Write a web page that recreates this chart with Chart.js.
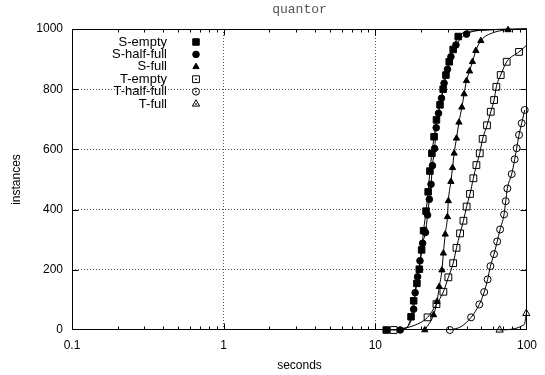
<!DOCTYPE html>
<html>
<head>
<meta charset="utf-8">
<title>quantor</title>
<script src="https://cdn.jsdelivr.net/npm/chart.js@4.4.1/dist/chart.umd.min.js"></script>
<style>
  html, body { margin: 0; padding: 0; background: #fff; }
  #chart { display: block; }
</style>
</head>
<body>
<canvas id="chart" width="545" height="375"></canvas>
<script>
// solve time (seconds) vs number of solved instances
const xTicks = [0.1, 1, 10, 100];
const yTicks = [0, 200, 400, 600, 800, 1000];

const sEmptyT = [11.8, 17.2, 17.9, 18.8, 19.5, 20.2, 20.8, 21.6, 22.3, 22.9, 23.6, 24.4, 25.3, 26.7, 28.0, 29.2, 30.7, 32.6, 35.2];
const sEmptyN = [0, 44, 97, 155, 202, 266, 330, 395, 459, 528, 587, 642, 698, 748, 800, 847, 891, 932, 975];
const sHalfT = [14.6, 17.9, 18.3, 19.0, 19.7, 20.5, 21.4, 22.1, 22.7, 23.3, 23.8, 24.6, 25.2, 26.1, 27.3, 28.4, 29.9, 31.5, 34.0, 39.9];
const sHalfN = [0, 69, 124, 177, 230, 288, 324, 382, 434, 484, 546, 603, 672, 720, 770, 820, 866, 908, 947, 983];
const sFullT = [21.2, 24.2, 25.5, 26.4, 27.5, 28.1, 28.9, 29.9, 30.3, 31.5, 32.3, 33.1, 34.3, 35.6, 37.2, 38.5, 39.9, 41.8, 43.7, 46.0, 49.6, 75];
const sFullN = [0, 50, 94, 144, 199, 255, 318, 376, 429, 493, 539, 587, 637, 690, 740, 784, 828, 860, 891, 928, 961, 997];
const tEmptyT = [13.2, 22.1, 25.3, 28.1, 30.3, 32.6, 34.3, 36.2, 38.1, 40.0, 42.1, 44.3, 46.4, 48.8, 51.0, 54.5, 57.7, 60.7, 62.8, 67.1, 73.5, 88.6];
const tEmptyN = [0, 42, 86, 127, 175, 222, 273, 321, 363, 410, 452, 504, 548, 587, 635, 680, 725, 764, 808, 847, 891, 924];
const tHalfT = [31.0, 42.8, 48.5, 52.2, 55.0, 57.4, 60.6, 63.6, 66.5, 70.6, 72.4, 74.2, 79.3, 83.0, 85.5, 88.6, 92.3, 96.6];
const tHalfN = [0, 42, 85, 126, 168, 212, 252, 294, 334, 384, 428, 470, 518, 567, 604, 648, 687, 731];
const tFullT = [66, 99];
const tFullN = [0, 55];

// points the curves pass through where no marker is drawn
const sEmptyLineT = [15.8, 45, 100];
const sEmptyLineN = [4, 994, 1000];
const sHalfLineT = [16.8, 55, 100];
const sHalfLineN = [20, 997, 1000];
const sFullLineT = [60, 100];
const sFullLineN = [988, 1000];
const tEmptyLineT = [18, 100];
const tEmptyLineN = [15, 947];
const tHalfLineT = [37];
const tHalfLineN = [12];
const tFullLineT = [96];
const tFullLineN = [18];

function series(t, n, lt, ln) {
  const pts = t.map((v, i) => ({ x: v, y: n[i], mark: true }))
    .concat(lt.map((v, i) => ({ x: v, y: ln[i], mark: false })));
  pts.sort((a, b) => a.x - b.x);
  return pts;
}

function ds(label, data, style, r, filled) {
  return {
    label: label,
    data: data,
    borderColor: '#000',
    borderWidth: 1,
    pointStyle: style,
    markRadius: r,
    filled: filled,
    pointRadius: ctx => (ctx.raw && ctx.raw.mark ? r : 0),
    pointHoverRadius: 0,
    pointBorderColor: '#000',
    pointBorderWidth: 1,
    pointBackgroundColor: filled ? '#000' : 'rgba(0,0,0,0)',
    backgroundColor: filled ? '#000' : 'rgba(0,0,0,0)',
    fill: false,
    cubicInterpolationMode: 'monotone',
    clip: false
  };
}

function mark(ctx, style, r, x, y, filled) {
  ctx.beginPath();
  if (style === 'rect') {
    const h = Math.SQRT1_2 * r;
    ctx.rect(x - h, y - h, 2 * h, 2 * h);
  } else if (style === 'triangle') {
    let a = 0;
    ctx.moveTo(x + Math.sin(a) * r, y - Math.cos(a) * r);
    a += Math.PI * 2 / 3;
    ctx.lineTo(x + Math.sin(a) * r, y - Math.cos(a) * r);
    a += Math.PI * 2 / 3;
    ctx.lineTo(x + Math.sin(a) * r, y - Math.cos(a) * r);
    ctx.closePath();
  } else {
    ctx.arc(x, y, r, 0, Math.PI * 2);
  }
  if (filled) ctx.fill();
  ctx.stroke();
  if (!filled) ctx.fillRect(x - 0.75, y - 0.75, 1.5, 1.5);
}

// gnuplot-style key: text right aligned, marker to its right
const legendBox = {
  id: 'legendBox',
  afterDraw(chart) {
    const ctx = chart.ctx;
    ctx.save();
    ctx.font = '13px "Liberation Sans", Arial, sans-serif';
    ctx.textAlign = 'right';
    ctx.textBaseline = 'middle';
    ctx.fillStyle = '#000';
    ctx.strokeStyle = '#000';
    ctx.lineWidth = 1;
    chart.data.datasets.forEach((d, i) => {
      const yy = 42 + i * 12.4;
      ctx.fillText(d.label, 167, yy);
      mark(ctx, d.pointStyle, d.markRadius, 196, yy, d.filled);
    });
    ctx.restore();
  }
};

// title centred over the plot area, not the whole canvas
const plotTitle = {
  id: 'plotTitle',
  afterDraw(chart) {
    const { ctx, chartArea: a } = chart;
    ctx.save();
    ctx.font = '13px "Liberation Mono", "Courier New", monospace';
    ctx.fillStyle = '#555';
    ctx.textAlign = 'center';
    ctx.textBaseline = 'middle';
    ctx.fillText('quantor', (a.left + a.right) / 2, 10);
    ctx.restore();
  }
};

const frame = {
  id: 'frame',
  afterDraw(chart) {
    const { ctx, chartArea: a, scales: { x, y } } = chart;
    const l = Math.round(a.left) + 0.5, r = Math.round(a.right) - 0.5;
    const t = Math.round(a.top) + 0.5, b = Math.round(a.bottom) - 0.5;
    ctx.save();
    ctx.strokeStyle = '#000';
    ctx.lineWidth = 1;
    ctx.beginPath();
    [0.1, 1, 10].forEach(dec => {
      for (let k = 1; k <= 9; k++) {
        const v = dec * k;
        if (v <= 0.1) continue;
        const px = Math.round(x.getPixelForValue(v)) + 0.5;
        const len = k === 1 ? 6 : 3;
        ctx.moveTo(px, b); ctx.lineTo(px, b - len);
        ctx.moveTo(px, t); ctx.lineTo(px, t + len);
      }
    });
    yTicks.slice(1, -1).forEach(v => {
      const py = Math.round(y.getPixelForValue(v)) + 0.5;
      ctx.moveTo(l, py); ctx.lineTo(l + 6, py);
      ctx.moveTo(r, py); ctx.lineTo(r - 6, py);
    });
    ctx.stroke();
    ctx.strokeRect(l, t, r - l, b - t);
    ctx.restore();
  }
};

Chart.defaults.font.family = '"Liberation Sans", Arial, sans-serif';
Chart.defaults.color = '#000';

const edgeX = v => v === 0.1 || v === 100;
const edgeY = v => v === 0 || v === 1000;

new Chart(document.getElementById('chart'), {
  type: 'line',
  data: {
    datasets: [
      ds('S-empty', series(sEmptyT, sEmptyN, sEmptyLineT, sEmptyLineN), 'rect', 4.6, true),
      ds('S-half-full', series(sHalfT, sHalfN, sHalfLineT, sHalfLineN), 'circle', 3.3, true),
      ds('S-full', series(sFullT, sFullN, sFullLineT, sFullLineN), 'triangle', 3.6, true),
      ds('T-empty', series(tEmptyT, tEmptyN, tEmptyLineT, tEmptyLineN), 'rect', 4.8, false),
      ds('T-half-full', series(tHalfT, tHalfN, tHalfLineT, tHalfLineN), 'circle', 3.5, false),
      ds('T-full', series(tFullT, tFullN, tFullLineT, tFullLineN), 'triangle', 4.2, false)
    ]
  },
  options: {
    responsive: false,
    animation: false,
    devicePixelRatio: 1,
    layout: { padding: { left: 0, right: 17, top: 29, bottom: 0 } },
    plugins: {
      legend: { display: false },
      tooltip: { enabled: false },
      title: { display: false }
    },
    scales: {
      x: {
        type: 'logarithmic',
        min: 0.1,
        max: 100,
        afterBuildTicks: s => { s.ticks = xTicks.map(v => ({ value: v })); },
        afterFit: s => { s.height = 45; },
        ticks: { callback: v => String(v), font: { size: 12 }, padding: 8, maxRotation: 0, autoSkip: false },
        grid: { drawTicks: false, lineWidth: 1, color: c => (c.tick && edgeX(c.tick.value) ? 'rgba(0,0,0,0)' : '#555') },
        border: { display: false, dash: [1, 2] },
        title: { display: true, text: 'seconds', font: { size: 12 }, padding: { top: 0, bottom: 2 } }
      },
      y: {
        min: 0,
        max: 1000,
        afterBuildTicks: s => { s.ticks = yTicks.map(v => ({ value: v })); },
        afterFit: s => { s.width = 72; },
        ticks: { callback: v => String(v), font: { size: 12 }, padding: 9 },
        grid: { drawTicks: false, lineWidth: 1, color: c => (c.tick && edgeY(c.tick.value) ? 'rgba(0,0,0,0)' : '#555') },
        border: { display: false, dash: [1, 2] },
        title: { display: true, text: 'instances', font: { size: 12 }, padding: { top: 9, bottom: 0 } }
      }
    }
  },
  plugins: [frame, legendBox, plotTitle]
});
</script>
</body>
</html>
